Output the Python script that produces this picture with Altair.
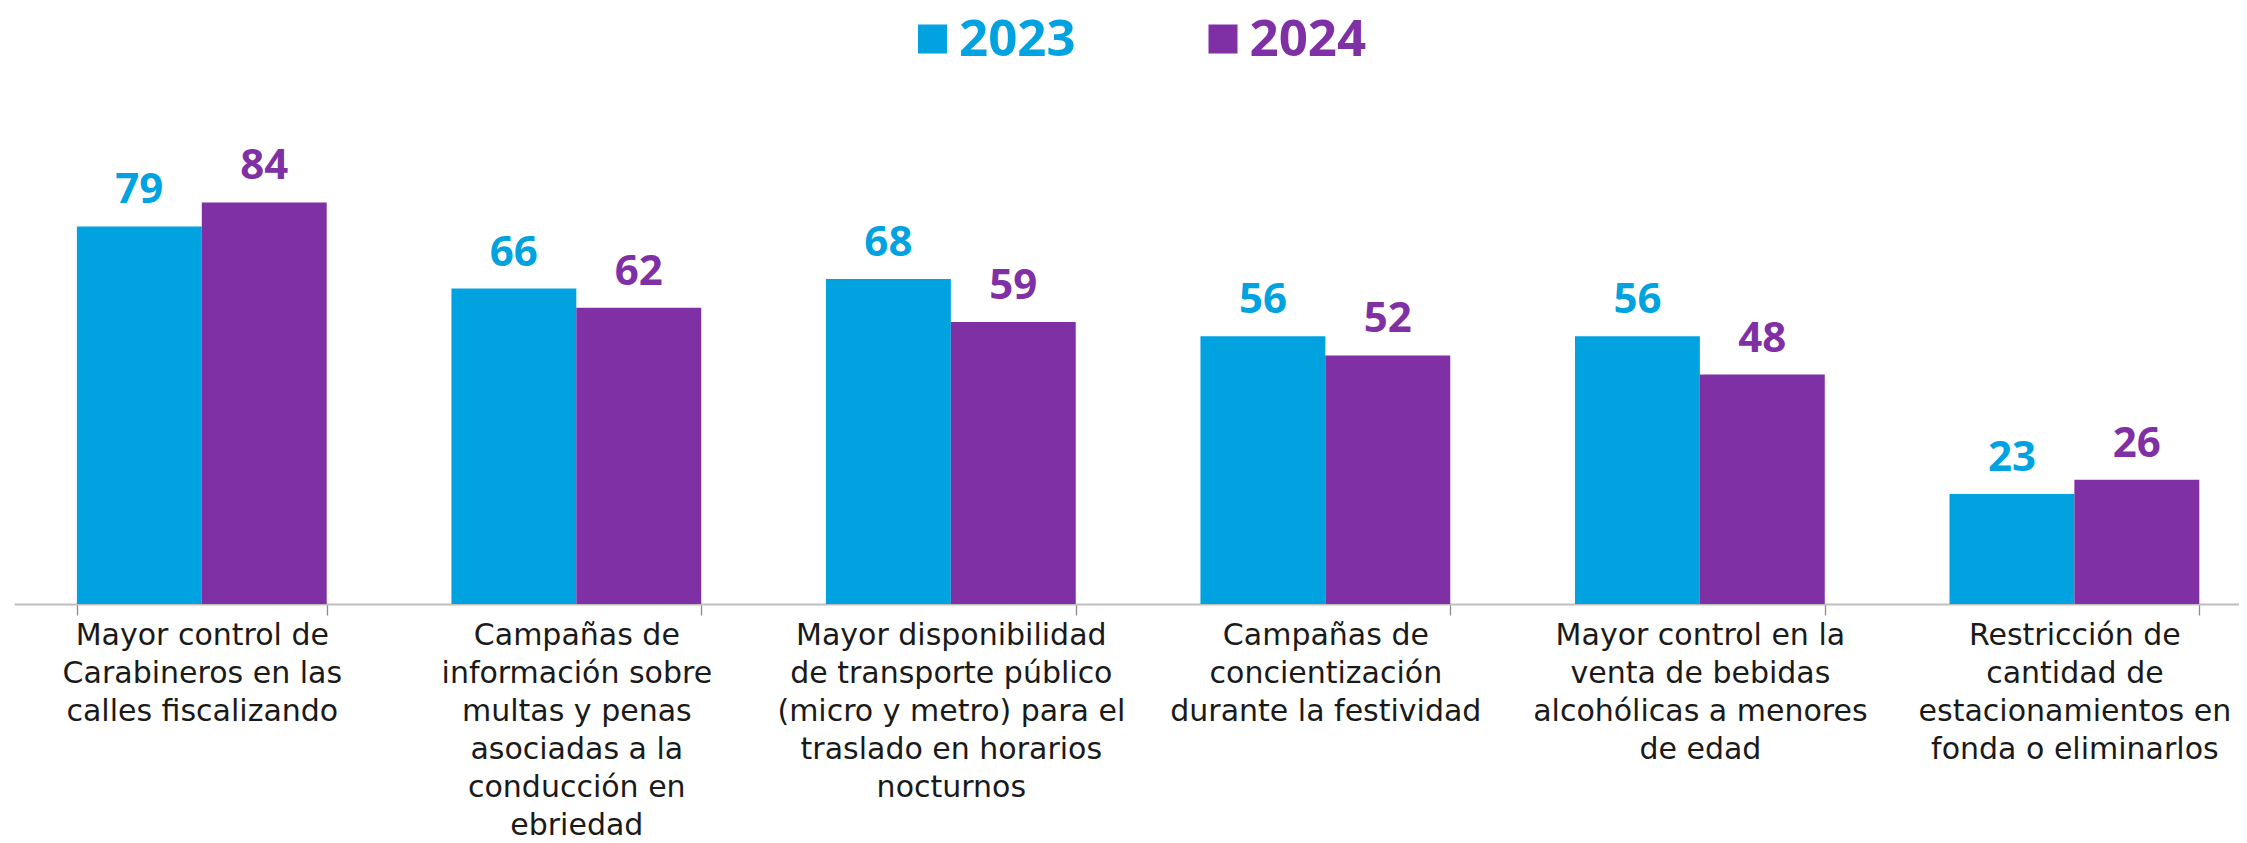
import altair as alt
import pandas as pd

label_lines = [
    ["Mayor control de", "Carabineros en las", "calles fiscalizando"],
    ["Campañas de", "información sobre", "multas y penas", "asociadas a la", "conducción en", "ebriedad"],
    ["Mayor disponibilidad", "de transporte público", "(micro y metro) para el", "traslado en horarios", "nocturnos"],
    ["Campañas de", "concientización", "durante la festividad"],
    ["Mayor control en la", "venta de bebidas", "alcohólicas a menores", "de edad"],
    ["Restricción de", "cantidad de", "estacionamientos en", "fonda o eliminarlos"],
]
categories = ["\n".join(l) for l in label_lines]
years = ["2023", "2024"]
values_2023 = [79, 66, 68, 56, 56, 23]
values_2024 = [84, 62, 59, 52, 48, 26]
colors = ["#00A3E0", "#7F30A5"]

rows = []
for i, c in enumerate(categories):
    rows.append({"cat": c, "year": "2023", "value": values_2023[i]})
    rows.append({"cat": c, "year": "2024", "value": values_2024[i]})
df = pd.DataFrame(rows)

W = 2225
H = 478

color_enc = alt.Color("year:N", scale=alt.Scale(domain=years, range=colors), legend=None)

base = alt.Chart(df).encode(
    x=alt.X(
        "cat:N",
        sort=categories,
        scale=alt.Scale(paddingInner=0.333, paddingOuter=0.137, align=0.613),
        axis=alt.Axis(
            title=None,
            labelExpr="split(datum.label, '\\n')",
            labelAngle=0,
            labelFontSize=30,
            labelFont="DejaVu Sans",
            labelColor="#1a1a1a",
            labelLineHeight=38,
            labelPadding=5,
            labelLimit=0,
            labelBaseline="top",
            tickBand="extent",
            tickSize=11,
            tickColor="#8c8c8c",
            tickWidth=1.3,
            domainColor="#bfbfbf",
            domainWidth=2,
        ),
    ),
    xOffset=alt.XOffset("year:N", sort=years),
    y=alt.Y("value:Q", scale=alt.Scale(domain=[0, 100]), axis=None),
    color=color_enc,
)

bars = base.mark_bar()
vals = base.mark_text(
    dy=-23, baseline="alphabetic", fontSize=42, fontWeight="bold", font="Open Sans"
).encode(text="value:Q")
main = (bars + vals).properties(width=W, height=H)

leg_df = pd.DataFrame({"year": years})
leg_base = alt.Chart(leg_df).encode(
    x=alt.X(
        "year:N",
        sort=years,
        scale=alt.Scale(type="point", domain=years, range=[918.5, 1209], padding=0),
        axis=None,
    ),
    color=color_enc,
)
squares = leg_base.mark_square(size=841, opacity=1).encode(y=alt.value(31))
ltext = leg_base.mark_text(
    align="left", baseline="alphabetic", dx=26.5, fontSize=51, fontWeight="bold", font="Open Sans"
).encode(text="year:N", y=alt.value(48))
legend = (squares + ltext).properties(width=W, height=62)

chart = (
    alt.vconcat(legend, main, spacing=56)
    .properties(padding={"left": 6, "top": 0, "right": 0, "bottom": 0})
    .configure_view(stroke=None)
)

chart.save("out.html", embed_options={"renderer": "svg", "actions": False})
